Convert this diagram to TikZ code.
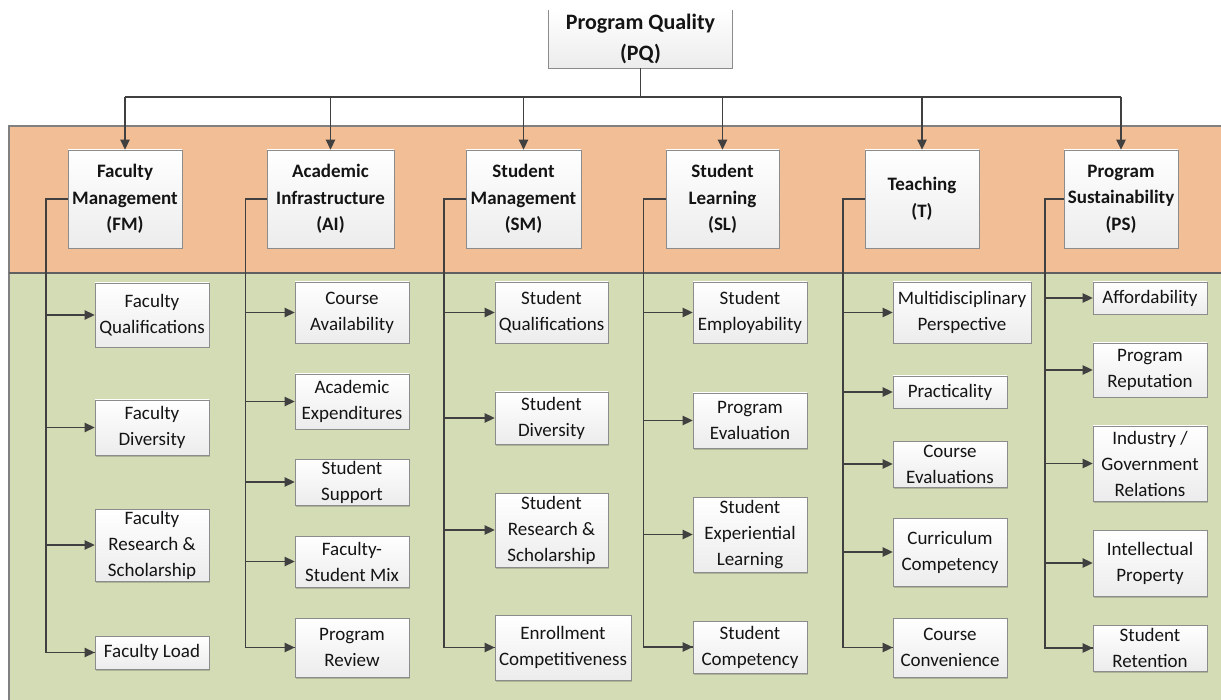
\documentclass[tikz,border=0pt]{standalone}
\usepackage{fontspec}
\setmainfont{Carlito}
\usetikzlibrary{arrows.meta,shadows}
\definecolor{orangeband}{RGB}{241,190,150}
\definecolor{greenband}{RGB}{212,220,181}
\definecolor{bandline}{RGB}{128,128,128}
\definecolor{midline}{RGB}{96,96,96}
\definecolor{lin}{RGB}{64,64,64}
\definecolor{boxline}{RGB}{140,140,140}
\definecolor{boxbot}{RGB}{236,236,236}
\definecolor{txt}{RGB}{20,20,20}
\newcommand\leaffont{\fontsize{19}{26}\selectfont}
\newcommand\catfont{\fontsize{19}{26.5}\selectfont\bfseries}
\newcommand\pqfont{\fontsize{22}{31}\selectfont\bfseries}
\tikzset{
  box/.style={draw=boxline, line width=0.8pt, top color=white, bottom color=boxbot,
    align=center, inner sep=0pt, font=\leaffont, text=txt,
    drop shadow={shadow xshift=1.2pt, shadow yshift=-1.5pt, opacity=0.18, fill=black}},
  catbox/.style={box, font=\catfont},
  conn/.style={draw=lin, line width=1.3pt},
  arr/.style={conn, -{Triangle[length=10pt,width=9.5pt]}},
}
\newcommand\leaf[6]{\node[box, minimum width=#3, minimum height=#5] (#1) at (#2,#4) {#6};}
\begin{document}
\begin{tikzpicture}[x=1pt,y=-1pt]
\useasboundingbox (0,0) rectangle (1221,700);
% bands
\fill[orangeband] (9,126) rectangle (1230,273);
\fill[greenband] (9,273) rectangle (1230,705);
\draw[bandline, line width=1.3pt] (1230,126) -- (9,126) -- (9,705);
\draw[midline, line width=1.5pt] (9,273) -- (1230,273);

% top node
\node[draw=none, top color=white, bottom color=boxbot, align=center, inner sep=0pt,
  font=\pqfont, text=txt, minimum width=183, minimum height=58] (PQ) at (640.5,39)
  {Program Quality\\(PQ)};
\draw[boxline, line width=0.8pt] (PQ.north west) -- (PQ.south west) -- (PQ.south east) -- (PQ.north east);

% categories
\node[catbox, minimum width=114, minimum height=98] (FM) at (125,199) {Faculty\\Management\\(FM)};
\node[catbox, minimum width=127, minimum height=98] (AI) at (330.5,199) {Academic\\Infrastructure\\(AI)};
\node[catbox, minimum width=115, minimum height=98] (SM) at (523.5,199) {Student\\Management\\(SM)};
\node[catbox, minimum width=113, minimum height=98] (SL) at (722.5,199) {Student\\Learning\\(SL)};
\node[catbox, minimum width=114, minimum height=98] (T) at (922,199) {Teaching\\(T)};
\node[catbox, minimum width=114, minimum height=98] (PS) at (1121,199) {Program\\Sustainability\\(PS)};

% FM leaves
\leaf{fq}{152}{114}{315}{64}{Faculty\\Qualifications}
\leaf{fd}{152}{114}{427.5}{55}{Faculty\\Diversity}
\leaf{fr}{152}{114}{545}{72}{Faculty\\Research \&\\Scholarship}
\leaf{fl}{152}{114}{652.5}{33}{Faculty Load}
% AI leaves
\leaf{ca}{352}{114}{312.5}{61}{Course\\Availability}
\leaf{ae}{352}{114}{401.5}{55}{Academic\\Expenditures}
\leaf{ss}{352}{114}{482}{46}{Student\\Support}
\leaf{fsm}{352}{114}{561.5}{51}{Faculty-\\Student Mix}
\leaf{prv}{352}{114}{647.5}{59}{Program\\Review}
% SM leaves
\leaf{sq}{551.5}{113}{312.5}{61}{Student\\Qualifications}
\leaf{sd}{551.5}{113}{418}{52}{Student\\Diversity}
\leaf{sr}{551.5}{113}{530}{74}{Student\\Research \&\\Scholarship}
\leaf{ec}{563}{136}{647.5}{65}{Enrollment\\Competitiveness}
% SL leaves
\leaf{se}{750}{114}{312.5}{61}{Student\\Employability}
\leaf{pe}{750}{114}{420.5}{55}{Program\\Evaluation}
\leaf{sel}{750}{114}{534.5}{75}{Student\\Experiential\\Learning}
\leaf{sc}{750}{114}{647}{52}{Student\\Competency}
% T leaves
\leaf{mp}{962}{138}{312.5}{61}{Multidisciplinary\\Perspective}
\leaf{pra}{950}{114}{392}{32}{Practicality}
\leaf{cev}{950}{114}{464}{46}{Course\\Evaluations}
\leaf{cc}{950}{114}{552}{68}{Curriculum\\Competency}
\leaf{cco}{950}{114}{647.5}{59}{Course\\Convenience}
% PS leaves
\leaf{af}{1150}{114}{298}{32}{Affordability}
\leaf{rep}{1150}{114}{370}{54}{Program\\Reputation}
\leaf{ig}{1150}{114}{463.5}{75}{Industry /\\Government\\Relations}
\leaf{ip}{1150}{114}{563}{66}{Intellectual\\Property}
\leaf{ret}{1150}{114}{648}{46}{Student\\Retention}

% top connectors
\coordinate (pqj) at (640.5,97);
\draw[conn] (PQ.south) -- (pqj);
\draw[conn] (pqj -| FM.north) -- (pqj -| PS.north);
\foreach \c in {FM,AI,SM,SL,T,PS}{
  \draw[arr] (pqj -| \c.north) -- (\c.north);
}

% trunks
\coordinate (fmT) at (46,199);
\coordinate (aiT) at (245.5,199);
\coordinate (smT) at (444,199);
\coordinate (slT) at (643.5,199);
\coordinate (tT) at (843,199);
\coordinate (psT) at (1045,199);
\draw[conn] (FM.west) -- (fmT) |- (fl.west);
\draw[conn] (AI.west) -- (aiT) |- (prv.west);
\draw[conn] (SM.west) -- (smT) |- (ec.west);
\draw[conn] (SL.west) -- (slT) |- (sc.west);
\draw[conn] (T.west) -- (tT) |- (cco.west);
\draw[conn] (PS.west) -- (psT) |- (ret.west);
\foreach \l in {fq,fd,fr,fl}{\draw[arr] (fmT |- \l.west) -- (\l.west);}
\foreach \l in {ca,ae,ss,fsm,prv}{\draw[arr] (aiT |- \l.west) -- (\l.west);}
\foreach \l in {sq,sd,sr,ec}{\draw[arr] (smT |- \l.west) -- (\l.west);}
\foreach \l in {se,pe,sel,sc}{\draw[arr] (slT |- \l.west) -- (\l.west);}
\foreach \l in {mp,pra,cev,cc,cco}{\draw[arr] (tT |- \l.west) -- (\l.west);}
\foreach \l in {af,rep,ig,ip,ret}{\draw[arr] (psT |- \l.west) -- (\l.west);}
\end{tikzpicture}
\end{document}
